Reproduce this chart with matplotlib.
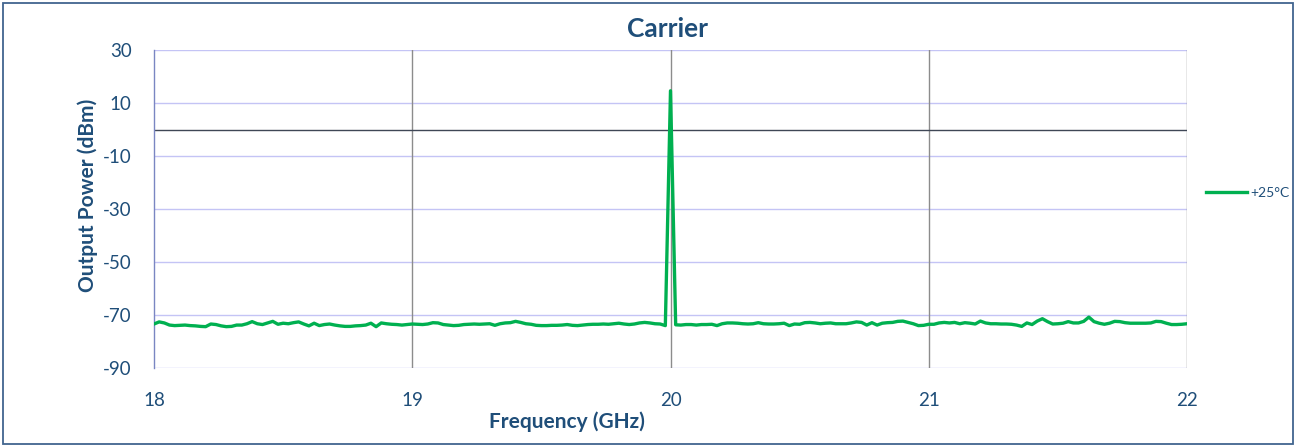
import numpy as np
import matplotlib.pyplot as plt

# frequency grid of the sweep (GHz), 0.02 GHz steps
freq = np.linspace(18, 22, 201)

# output power (dBm)
power_18_19 = [-73.4, -72.6, -73.0, -73.8, -74.0, -73.9, -73.8, -74.0, -74.1, -74.3,
               -74.4, -73.4, -73.6, -74.1, -74.4, -74.3, -73.8, -73.8, -73.3, -72.5,
               -73.3, -73.6, -73.0, -72.4, -73.5, -73.1, -73.3, -72.9, -72.6, -73.4,
               -74.1, -73.1, -74.0, -73.6, -73.4, -73.8, -74.1, -74.3, -74.3, -74.1,
               -74.0, -73.8, -73.1, -74.4, -73.0, -73.3, -73.5, -73.6, -73.8, -73.6,
               -73.4]
power_19_20 = [-73.5, -73.6, -73.4, -72.9, -73.0, -73.6, -73.8, -74.0, -73.9, -73.6,
               -73.5, -73.4, -73.5, -73.4, -73.3, -73.9, -73.3, -73.0, -72.9, -72.4,
               -72.8, -73.3, -73.5, -73.9, -74.0, -74.0, -73.9, -73.9, -73.8, -73.6,
               -73.9, -74.0, -73.8, -73.6, -73.5, -73.5, -73.4, -73.5, -73.3, -73.1,
               -73.4, -73.6, -73.4, -73.0, -72.8, -73.0, -73.3, -73.4, -74.0, 14.6]
power_20_21 = [-73.7, -73.8, -73.6, -73.6, -73.8, -73.6, -73.6, -73.5, -74.0, -73.3,
               -73.0, -73.0, -73.1, -73.3, -73.4, -73.3, -72.9, -73.3, -73.4, -73.4,
               -73.3, -73.1, -74.0, -73.4, -73.5, -72.9, -72.8, -73.0, -73.3, -73.1,
               -73.0, -73.3, -73.3, -73.3, -73.0, -72.6, -72.8, -73.8, -72.9, -73.8,
               -73.1, -72.9, -72.8, -72.4, -72.3, -72.8, -73.3, -74.0, -73.9, -73.5]
power_21_22 = [-73.5, -73.0, -72.8, -73.0, -72.8, -73.3, -72.9, -73.1, -73.4, -72.3,
               -73.0, -73.3, -73.3, -73.4, -73.4, -73.5, -73.8, -74.3, -73.0, -73.6,
               -72.3, -71.4, -72.5, -73.4, -73.3, -73.1, -72.5, -73.0, -73.0, -72.4,
               -70.8, -72.5, -73.1, -73.5, -73.1, -72.4, -72.5, -72.9, -73.1, -73.1,
               -73.1, -73.1, -73.0, -72.4, -72.5, -73.1, -73.6, -73.6, -73.5, -73.3]
power = np.array(power_18_19 + power_19_20 + power_20_21 + power_21_22)

x_ticks = [18, 19, 20, 21, 22]
y_ticks = [-90, -70, -50, -30, -10, 10, 30]
series_label = "+25°C"

txt_color = "#1F4E79"
plt.rcParams['font.family'] = ['Lato', 'DejaVu Sans']
plt.rcParams['axes.unicode_minus'] = False

fig = plt.figure(figsize=(12.96, 4.47), dpi=100)
ax = fig.add_axes([154/1296, 1-368/447, (1187-154)/1296, (368-50)/447])

# chart border like the excel chart area
fig.patches.append(plt.Rectangle((3/1296, 3/447), 1290/1296, 441/447, transform=fig.transFigure,
                                 fill=False, edgecolor="#41648F", linewidth=1.3))

for yt in y_ticks:
    ax.axhline(yt, color="#C4C4F5", linewidth=1.0, zorder=1)
for xt in x_ticks[1:]:
    ax.axvline(xt, color="#8C8C8C", linewidth=1.0, zorder=1)
ax.axhline(0, color="#3F4756", linewidth=1.0, zorder=2)

ax.plot(freq, power, color="#00B050", linewidth=2.4, label=series_label, zorder=3,
        solid_joinstyle="round")

ax.set_xlim(18, 22)
ax.set_ylim(-90, 30)
ax.set_xticks(x_ticks)
ax.set_yticks(y_ticks)
ax.tick_params(length=0, labelsize=13.5, colors=txt_color)
ax.tick_params(axis='x', pad=17)
ax.tick_params(axis='y', pad=16)
for s in ["top", "right", "bottom"]:
    ax.spines[s].set_visible(False)
ax.spines["left"].set_color("#7A86C2")
ax.spines["left"].set_linewidth(1.0)

fig.text(668/1296, 1-29/447, "Carrier", ha="center", va="center", fontsize=19,
         fontweight="bold", color=txt_color)
fig.text(567/1296, 1-422/447, "Frequency (GHz)", ha="center", va="center", fontsize=15,
         fontweight="bold", color=txt_color)
fig.text(88/1296, 1-195/447, "Output Power (dBm)", ha="center", va="center", fontsize=15,
         fontweight="bold", color=txt_color, rotation=90)

leg = fig.legend(loc="center left", bbox_to_anchor=(1200/1296, 1-193/447), frameon=False,
                 fontsize=10, handlelength=3.0, handletextpad=0.25, borderaxespad=0)
for t in leg.get_texts():
    t.set_color(txt_color)

fig.savefig("out.png", dpi=100)
